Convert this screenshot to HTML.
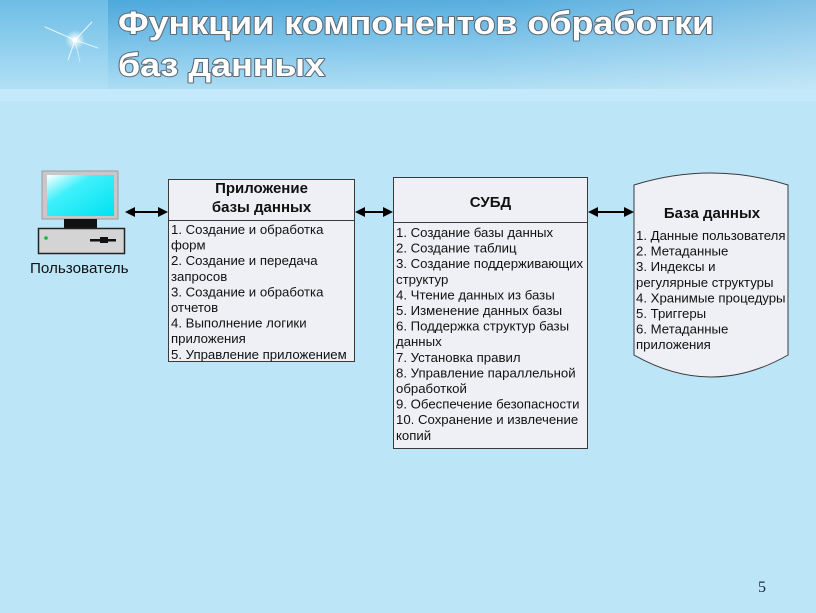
<!DOCTYPE html>
<html><head><meta charset="utf-8">
<style>
html,body{margin:0;padding:0;width:816px;height:613px;overflow:hidden;background:#bde5f8;}
svg{display:block;}
.s{font-family:"Liberation Sans",Arial,sans-serif;}
.serif{font-family:"Liberation Serif","Times New Roman",serif;}
</style></head>
<body>
<svg width="816" height="613" viewBox="0 0 816 613" xmlns="http://www.w3.org/2000/svg">
<defs>
<linearGradient id="hdr" x1="0" y1="0" x2="0" y2="1">
<stop offset="0" stop-color="#4aa7db"/>
<stop offset="0.55" stop-color="#7fc5ea"/>
<stop offset="1" stop-color="#aadcf3"/>
</linearGradient>
<linearGradient id="hdrR" x1="0" y1="0" x2="1" y2="0">
<stop offset="0" stop-color="#ffffff" stop-opacity="0"/>
<stop offset="0.6" stop-color="#ffffff" stop-opacity="0.08"/>
<stop offset="1" stop-color="#ffffff" stop-opacity="0.3"/>
</linearGradient>
<linearGradient id="lp" x1="0" y1="0" x2="0" y2="1">
<stop offset="0" stop-color="#6ebde6"/>
<stop offset="1" stop-color="#b0e0f5"/>
</linearGradient>
<linearGradient id="scr" x1="0" y1="0" x2="1" y2="1">
<stop offset="0" stop-color="#ffffff"/>
<stop offset="0.35" stop-color="#3ff0fa"/>
<stop offset="1" stop-color="#00e2f2"/>
</linearGradient>
<radialGradient id="star" cx="0.5" cy="0.5" r="0.5">
<stop offset="0" stop-color="#ffffff" stop-opacity="1"/>
<stop offset="1" stop-color="#ffffff" stop-opacity="0"/>
</radialGradient>
</defs>

<!-- header -->
<rect x="0" y="0" width="816" height="89" fill="url(#hdr)"/>
<rect x="0" y="0" width="816" height="89" fill="url(#hdrR)"/>
<rect x="0" y="0" width="108" height="89" fill="url(#lp)"/>
<rect x="0" y="89" width="816" height="12" fill="#c4e9fa"/>
<!-- star -->
<circle cx="75" cy="40" r="10" fill="url(#star)"/>
<g stroke="#ffffff" stroke-linecap="round">
<line x1="75" y1="40" x2="45" y2="27" stroke-width="1" stroke-opacity="0.8"/>
<line x1="75" y1="40" x2="92" y2="22" stroke-width="1" stroke-opacity="0.8"/>
<line x1="75" y1="40" x2="68" y2="60" stroke-width="1" stroke-opacity="0.8"/>
<line x1="75" y1="40" x2="98" y2="48" stroke-width="1" stroke-opacity="0.7"/>
<line x1="75" y1="40" x2="80" y2="62" stroke-width="0.8" stroke-opacity="0.6"/>
</g>
<circle cx="75" cy="40" r="2.5" fill="#ffffff"/>

<!-- title -->
<g class="s" font-weight="bold" font-size="32" fill="#ffffff" stroke="#5d6b78" stroke-width="2" paint-order="stroke" stroke-linejoin="round">
<text x="118" y="34" textLength="596" lengthAdjust="spacingAndGlyphs">Функции компонентов обработки</text>
<text x="118" y="76" textLength="207" lengthAdjust="spacingAndGlyphs">баз данных</text>
</g>

<!-- computer -->
<rect x="42" y="171" width="76" height="48" fill="#c8c8c8" stroke="#9a9a9a" stroke-width="1"/>
<rect x="47" y="175" width="67" height="41" fill="url(#scr)"/>
<rect x="64" y="219" width="33" height="9" fill="#111"/>
<rect x="38.5" y="228.5" width="86" height="25" fill="#d4d4d4" stroke="#222" stroke-width="1.5"/>
<circle cx="46" cy="238" r="1.8" fill="#19b53a"/>
<rect x="90" y="239" width="26" height="2.5" fill="#111"/>
<rect x="100" y="237" width="8" height="6" fill="#111"/>
<text class="s" x="30" y="273" font-size="15.2" fill="#111">Пользователь</text>

<!-- arrows -->
<g stroke="#000" stroke-width="2">
<line x1="132" y1="212" x2="161" y2="212"/>
<line x1="362" y1="212" x2="386" y2="212"/>
<line x1="595" y1="212" x2="627" y2="212"/>
</g>
<g fill="#000">
<polygon points="125,212 135,207 135,217"/>
<polygon points="168,212 158,207 158,217"/>
<polygon points="355,212 365,207 365,217"/>
<polygon points="393,212 383,207 383,217"/>
<polygon points="588,212 598,207 598,217"/>
<polygon points="634,212 624,207 624,217"/>
</g>

<!-- box 1 -->
<rect x="168.5" y="179.5" width="186" height="182" fill="#eef0f5" stroke="#3a3a3a" stroke-width="1"/>
<line x1="168.5" y1="220.5" x2="354.5" y2="220.5" stroke="#3a3a3a" stroke-width="1"/>
<g class="s" font-weight="bold" font-size="15" fill="#111" text-anchor="middle">
<text x="261.5" y="193">Приложение</text>
<text x="261.5" y="212">базы данных</text>
</g>
<g class="s" font-size="13.2" fill="#111">
<text x="171" y="234">1. Создание и обработка</text>
<text x="171" y="249.6">форм</text>
<text x="171" y="265.2">2. Создание и передача</text>
<text x="171" y="280.8">запросов</text>
<text x="171" y="296.4">3. Создание и обработка</text>
<text x="171" y="312">отчетов</text>
<text x="171" y="327.6">4. Выполнение логики</text>
<text x="171" y="343.2">приложения</text>
<text x="171" y="358.8">5. Управление приложением</text>
</g>

<!-- box 2 -->
<rect x="393.5" y="177.5" width="194" height="271" fill="#eef0f5" stroke="#3a3a3a" stroke-width="1"/>
<line x1="393.5" y1="222.5" x2="587.5" y2="222.5" stroke="#3a3a3a" stroke-width="1"/>
<text class="s" x="490.5" y="207" font-weight="bold" font-size="15" fill="#111" text-anchor="middle">СУБД</text>
<g class="s" font-size="13.2" fill="#111">
<text x="396" y="237">1. Создание базы данных</text>
<text x="396" y="252.6">2. Создание таблиц</text>
<text x="396" y="268.2">3. Создание поддерживающих</text>
<text x="396" y="283.8">структур</text>
<text x="396" y="299.4">4. Чтение данных из базы</text>
<text x="396" y="315">5. Изменение данных базы</text>
<text x="396" y="330.6">6. Поддержка структур базы</text>
<text x="396" y="346.2">данных</text>
<text x="396" y="361.8">7. Установка правил</text>
<text x="396" y="377.4">8. Управление параллельной</text>
<text x="396" y="393">обработкой</text>
<text x="396" y="408.6">9. Обеспечение безопасности</text>
<text x="396" y="424.2">10. Сохранение и извлечение</text>
<text x="396" y="439.8">копий</text>
</g>

<!-- database cylinder -->
<path d="M634,185 Q711,161 788,185 L788,355 Q711,399 634,355 Z" fill="#eef0f5" stroke="#3a3a3a" stroke-width="1"/>
<text class="s" x="712" y="218" font-weight="bold" font-size="15" fill="#111" text-anchor="middle">База данных</text>
<g class="s" font-size="13.2" fill="#111">
<text x="636" y="240">1. Данные пользователя</text>
<text x="636" y="255.6">2. Метаданные</text>
<text x="636" y="271.2">3. Индексы и</text>
<text x="636" y="286.8">регулярные структуры</text>
<text x="636" y="302.4">4. Хранимые процедуры</text>
<text x="636" y="318">5. Триггеры</text>
<text x="636" y="333.6">6. Метаданные</text>
<text x="636" y="349.2">приложения</text>
</g>

<!-- page number -->
<text class="serif" x="758" y="592" font-size="16" fill="#1a2a3a">5</text>
</svg>
</body></html>
